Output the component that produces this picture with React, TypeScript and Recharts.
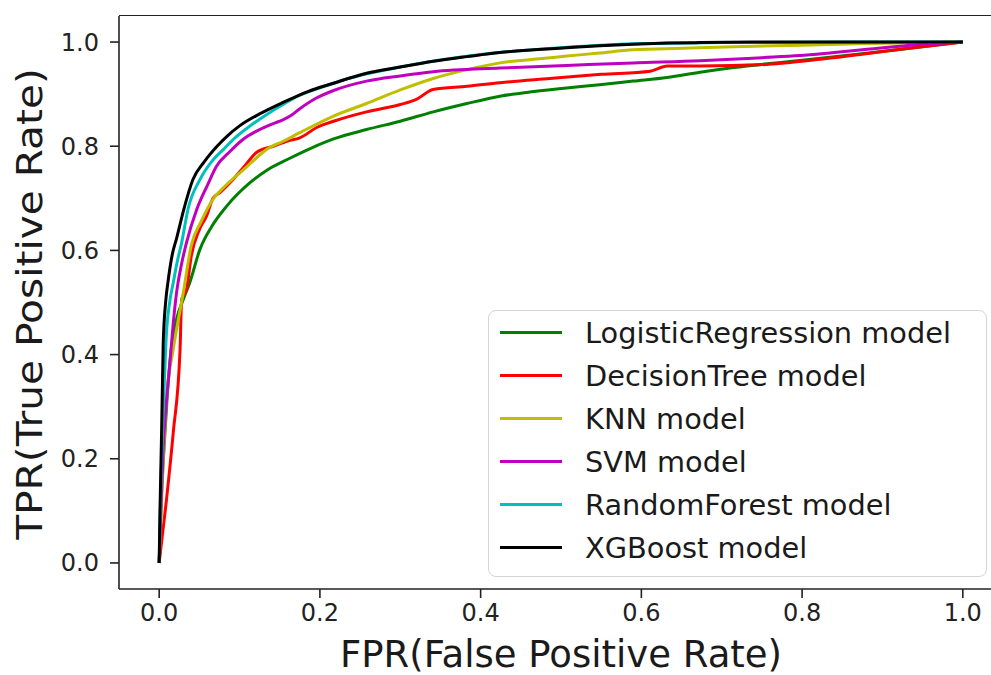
import { LineChart, Line, XAxis, YAxis, Legend, Label } from "recharts";

const FONT = "DejaVu Sans";
const TICKS = [0, 0.2, 0.4, 0.6, 0.8, 1.0];

// ROC curves: FPR / TPR pairs per model
const lrFpr = [0, 0.002, 0.006, 0.01, 0.015, 0.022, 0.03, 0.038, 0.0507, 0.065, 0.084, 0.113, 0.135, 0.16, 0.19, 0.217, 0.258, 0.3, 0.341, 0.383, 0.424, 0.466, 0.507, 0.548, 0.59, 0.632, 0.673, 0.715, 0.8, 0.9, 1.0];
const lrTpr = [0, 0.1, 0.22, 0.32, 0.41, 0.47, 0.506, 0.538, 0.602, 0.645, 0.685, 0.73, 0.755, 0.775, 0.797, 0.814, 0.832, 0.848, 0.866, 0.882, 0.896, 0.905, 0.912, 0.918, 0.925, 0.932, 0.942, 0.951, 0.965, 0.982, 1.0];

const dtFpr = [0, 0.009, 0.0175, 0.026, 0.028, 0.034, 0.04, 0.05, 0.059, 0.067, 0.0756, 0.092, 0.108, 0.121, 0.142, 0.16, 0.175, 0.196, 0.217, 0.258, 0.3, 0.32, 0.341, 0.383, 0.424, 0.486, 0.55, 0.611, 0.632, 0.673, 0.756, 0.839, 0.922, 1.0];
const dtTpr = [0, 0.12, 0.25, 0.41, 0.506, 0.525, 0.59, 0.64, 0.666, 0.7, 0.711, 0.736, 0.765, 0.788, 0.8, 0.81, 0.816, 0.836, 0.848, 0.866, 0.88, 0.89, 0.909, 0.915, 0.922, 0.93, 0.938, 0.944, 0.954, 0.954, 0.957, 0.97, 0.986, 1.0];

const knnFpr = [0, 0.003, 0.009, 0.0175, 0.03, 0.04, 0.052, 0.067, 0.083, 0.1005, 0.117, 0.134, 0.155, 0.175, 0.217, 0.258, 0.3, 0.341, 0.383, 0.424, 0.466, 0.507, 0.548, 0.59, 0.65, 0.715, 0.8, 0.88, 1.0];
const knnTpr = [0, 0.12, 0.314, 0.41, 0.519, 0.61, 0.655, 0.698, 0.725, 0.749, 0.772, 0.794, 0.81, 0.826, 0.858, 0.882, 0.908, 0.93, 0.947, 0.96, 0.967, 0.973, 0.979, 0.985, 0.988, 0.991, 0.994, 0.997, 1.0];

const svmFpr = [0, 0.002, 0.005, 0.009, 0.013, 0.0175, 0.0217, 0.028, 0.034, 0.0466, 0.06, 0.0715, 0.088, 0.105, 0.12, 0.138, 0.15, 0.163, 0.175, 0.195, 0.217, 0.258, 0.3, 0.341, 0.424, 0.507, 0.59, 0.673, 0.75, 0.797, 0.84, 0.881, 0.943, 1.0];
const svmTpr = [0, 0.1, 0.22, 0.31, 0.378, 0.46, 0.52, 0.575, 0.615, 0.678, 0.725, 0.762, 0.79, 0.814, 0.828, 0.841, 0.848, 0.858, 0.872, 0.892, 0.907, 0.925, 0.935, 0.943, 0.95, 0.955, 0.96, 0.964, 0.97, 0.974, 0.98, 0.986, 0.995, 1.0];

const rfFpr = [0, 0.001, 0.003, 0.006, 0.009, 0.013, 0.0175, 0.022, 0.028, 0.036, 0.0507, 0.065, 0.08, 0.095, 0.113, 0.133, 0.154, 0.175, 0.2, 0.24, 0.3, 0.4, 0.5, 0.6, 0.7, 0.85, 1.0];
const rfTpr = [0, 0.08, 0.2, 0.33, 0.44, 0.5, 0.538, 0.575, 0.615, 0.68, 0.736, 0.77, 0.794, 0.817, 0.839, 0.86, 0.88, 0.898, 0.912, 0.932, 0.952, 0.976, 0.989, 0.997, 0.999, 1.0, 1.0];

const xgbFpr = [0, 0.001, 0.003, 0.005, 0.008, 0.011, 0.016, 0.022, 0.03, 0.042, 0.056, 0.072, 0.085, 0.1, 0.125, 0.154, 0.185, 0.217, 0.258, 0.3, 0.341, 0.383, 0.424, 0.466, 0.507, 0.548, 0.59, 0.632, 0.673, 0.75, 0.85, 1.0];
const xgbTpr = [0, 0.1, 0.25, 0.42, 0.5, 0.54, 0.59, 0.625, 0.675, 0.736, 0.77, 0.8, 0.82, 0.839, 0.862, 0.884, 0.905, 0.921, 0.94, 0.952, 0.963, 0.972, 0.98, 0.985, 0.989, 0.993, 0.996, 0.998, 0.999, 1.0, 1.0, 1.0];

const toPoints = (fpr: number[], tpr: number[]) => fpr.map((x, i) => ({ fpr: x, tpr: tpr[i] }));

const MODELS = [
  { name: "LogisticRegression model", color: "#008000", data: toPoints(lrFpr, lrTpr) },
  { name: "DecisionTree model", color: "#ff0000", data: toPoints(dtFpr, dtTpr) },
  { name: "KNN model", color: "#bfbf00", data: toPoints(knnFpr, knnTpr) },
  { name: "SVM model", color: "#bf00bf", data: toPoints(svmFpr, svmTpr) },
  { name: "RandomForest model", color: "#00bfbf", data: toPoints(rfFpr, rfTpr) },
  { name: "XGBoost model", color: "#000000", data: toPoints(xgbFpr, xgbTpr) },
];

const SPINE = { stroke: "#222", strokeWidth: 1.6 };

function RocLegend() {
  return (
    <div
      style={{
        width: 499,
        height: 267,
        boxSizing: "border-box",
        border: "1.5px solid #d4d4d4",
        borderRadius: 8,
        background: "rgba(255,255,255,0.85)",
        paddingLeft: 11,
        fontFamily: FONT,
        fontSize: 28.8,
        color: "#1a1a1a",
      }}
    >
      {MODELS.map((m) => (
        <div key={m.name} style={{ display: "flex", alignItems: "center", height: 43 }}>
          <span style={{ display: "inline-block", width: 62, height: 3, background: m.color }} />
          <span style={{ marginLeft: 23, whiteSpace: "nowrap" }}>{m.name}</span>
        </div>
      ))}
    </div>
  );
}

export default function App() {
  const tickStyle = { fontSize: 24, fill: "#222", fontFamily: FONT };
  return (
    <div style={{ position: "fixed", left: 0, top: 0, width: 991, height: 675, overflow: "hidden", background: "#fff" }}>
      {/* top frame line of the axes box */}
      <div style={{ position: "absolute", left: 119, top: 15, width: 900, height: 0, borderTop: "1.6px solid #222" }} />
      <LineChart width={1010} height={675} margin={{ top: 16, right: 7, bottom: 0, left: 0 }}>
        <XAxis
          dataKey="fpr"
          type="number"
          domain={[-0.05, 1.05]}
          ticks={TICKS}
          tickFormatter={(v: number) => v.toFixed(1)}
          allowDataOverflow
          height={86}
          tick={tickStyle}
          tickSize={9}
          tickMargin={6}
          axisLine={SPINE}
          tickLine={SPINE}
        >
          <Label
            content={() => (
              <text x={561} y={667} textAnchor="middle" fontFamily={FONT} fontSize={37} fill="#1a1a1a">
                FPR(False Positive Rate)
              </text>
            )}
          />
        </XAxis>
        <YAxis
          type="number"
          domain={[-0.05, 1.05]}
          ticks={TICKS}
          tickFormatter={(v: number) => v.toFixed(1)}
          allowDataOverflow
          width={119}
          tick={tickStyle}
          tickSize={9}
          tickMargin={11}
          axisLine={SPINE}
          tickLine={SPINE}
        >
          <Label
            content={() => (
              <text
                x={0}
                y={0}
                transform="translate(42 304) rotate(-90) scale(1.13 1)"
                textAnchor="middle"
                fontFamily={FONT}
                fontSize={36}
                fill="#1a1a1a"
              >
                TPR(True Positive Rate)
              </text>
            )}
          />
        </YAxis>
        {MODELS.map((m) => (
          <Line
            key={m.name}
            data={m.data}
            dataKey="tpr"
            name={m.name}
            type="monotone"
            stroke={m.color}
            strokeWidth={3}
            dot={false}
            isAnimationActive={false}
          />
        ))}
        <Legend
          layout="vertical"
          align="center"
          verticalAlign="middle"
          wrapperStyle={{ left: 488, top: 310, width: 499, height: 267 }}
          content={() => <RocLegend />}
        />
      </LineChart>
    </div>
  );
}
